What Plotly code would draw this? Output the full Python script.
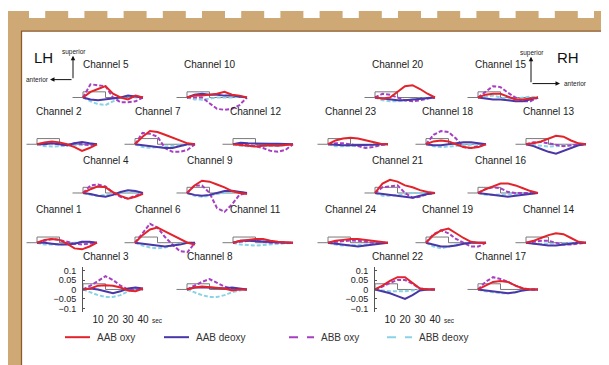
import plotly.graph_objects as go

W, H = 609, 365
PAGE_OFF = 8  # browser body margin that offsets the figure on the page

# ---------------- data ----------------
time_s = [0, 5, 10, 15, 20, 25, 30, 35, 40]
stim_t = [-7, 0, 0, 15, 15, 40]
stim_v = [0, 0, 0.03, 0.03, 0, 0]
channels = [5, 10, 2, 7, 12, 4, 9, 1, 6, 11, 3, 8,
            20, 15, 23, 18, 13, 21, 16, 24, 19, 14, 22, 17]
calib_channels = [3, 22]
series_names = ["AAB oxy", "AAB deoxy", "ABB oxy", "ABB deoxy"]
y_tickvals = [-0.1, -0.05, 0, 0.05, 0.1]
y_ticktext = ["\u22120.1", "\u22120.05", "0", "0.05", "0.1"]
x_tickvals = [10, 20, 30, 40]

aab_oxy = {
    5:  [0, 0.03, 0.045, 0.06, 0.02, 0.0, -0.01, 0.01, 0.0],
    10: [0, 0.01, 0.01, 0.015, 0.02, 0.03, 0.015, 0.01, 0.0],
    2:  [0, 0.01, 0.015, 0.01, 0.0, -0.015, -0.035, -0.02, 0.0],
    7:  [0, 0.04, 0.07, 0.065, 0.05, 0.035, 0.02, 0.005, 0.0],
    12: [0, -0.005, -0.01, -0.012, -0.008, -0.005, -0.008, -0.005, 0.0],
    4:  [0, 0.02, 0.035, 0.03, 0.005, -0.015, -0.03, -0.02, -0.005],
    9:  [0, 0.04, 0.065, 0.06, 0.045, 0.03, 0.01, 0.0, -0.005],
    1:  [0, 0.015, 0.02, 0.015, -0.005, -0.03, -0.035, -0.02, 0.0],
    6:  [0, 0.04, 0.07, 0.08, 0.06, 0.04, 0.02, 0.0, -0.01],
    11: [0, 0.01, 0.015, 0.02, 0.02, 0.01, 0.005, 0.003, 0.0],
    3:  [0, 0.005, 0.02, 0.022, 0.02, 0.01, -0.005, -0.01, 0.005],
    8:  [0, 0.01, 0.015, 0.012, 0.01, 0.005, -0.005, 0.0, 0.0],
    20: [0, -0.005, 0.0, 0.03, 0.06, 0.065, 0.045, 0.02, 0.0],
    15: [0, 0.015, 0.02, 0.02, 0.005, -0.01, -0.01, -0.005, 0.0],
    23: [0, 0.02, 0.03, 0.035, 0.03, 0.02, 0.01, 0.003, 0.0],
    18: [0, 0.015, 0.02, 0.015, 0.0, -0.015, -0.02, -0.015, 0.0],
    13: [0, 0.005, 0.015, 0.03, 0.045, 0.04, 0.02, 0.005, 0.0],
    21: [0, 0.05, 0.07, 0.06, 0.04, 0.03, 0.015, 0.005, 0.0],
    16: [0, 0.02, 0.035, 0.05, 0.05, 0.04, 0.025, 0.01, 0.0],
    24: [0, 0.01, 0.015, 0.02, 0.02, 0.015, 0.01, 0.003, 0.0],
    19: [0, 0.04, 0.065, 0.075, 0.05, 0.025, 0.005, 0.0, 0.0],
    14: [0, 0.01, 0.025, 0.04, 0.05, 0.045, 0.025, 0.005, 0.0],
    22: [0, 0.02, 0.045, 0.065, 0.065, 0.035, 0.005, 0.0, 0.0],
    17: [0, 0.02, 0.04, 0.045, 0.04, 0.02, 0.005, 0.0, 0.0],
}
aab_deoxy = {
    5:  [0, -0.01, -0.015, -0.01, -0.005, 0.0, 0.01, 0.005, 0.0],
    10: [0, 0.015, 0.02, 0.015, 0.015, 0.01, 0.01, 0.005, 0.0],
    2:  [0, 0.0, 0.005, 0.0, -0.005, 0.005, 0.012, 0.005, 0.0],
    7:  [0, -0.005, -0.01, -0.015, -0.02, -0.02, -0.01, 0.0, 0.0],
    12: [0, 0.008, 0.005, 0.003, 0.002, 0.002, 0.002, 0.0, 0.0],
    4:  [0, -0.005, -0.015, -0.02, -0.01, 0.005, 0.015, 0.01, 0.0],
    9:  [0, -0.01, -0.015, -0.01, 0.0, 0.01, 0.012, 0.005, 0.0],
    1:  [0, 0.0, -0.005, -0.01, -0.01, -0.005, 0.005, 0.005, 0.0],
    6:  [0, -0.005, -0.01, -0.015, -0.02, -0.015, -0.01, 0.0, 0.0],
    11: [0, 0.01, 0.01, 0.008, 0.005, 0.003, 0.0, 0.0, 0.0],
    3:  [0, 0.005, 0.0, -0.01, -0.02, -0.01, 0.005, 0.01, 0.005],
    8:  [0, 0.01, 0.012, 0.01, 0.005, 0.005, 0.01, 0.005, 0.0],
    20: [0, -0.005, -0.01, -0.015, -0.015, -0.012, -0.01, -0.005, 0.0],
    15: [0, -0.005, -0.01, -0.01, -0.015, -0.02, -0.02, -0.01, 0.0],
    23: [0, -0.003, -0.005, -0.005, -0.005, -0.005, -0.003, 0.0, 0.0],
    18: [0, -0.005, -0.005, 0.0, 0.005, 0.01, 0.01, 0.005, 0.0],
    13: [0, -0.01, -0.025, -0.04, -0.05, -0.035, -0.02, -0.005, 0.0],
    21: [0, -0.005, -0.01, -0.015, -0.02, -0.025, -0.015, -0.005, 0.0],
    16: [0, -0.005, -0.01, -0.015, -0.02, -0.015, -0.01, -0.005, 0.0],
    24: [0, -0.005, -0.01, -0.015, -0.02, -0.015, -0.01, -0.005, 0.0],
    19: [0, -0.01, -0.02, -0.02, -0.015, -0.005, 0.0, 0.0, 0.0],
    14: [0, -0.005, -0.01, -0.015, -0.015, -0.01, -0.005, 0.0, 0.0],
    22: [0, -0.01, -0.02, -0.035, -0.05, -0.03, -0.005, 0.0, 0.0],
    17: [0, -0.005, -0.01, -0.015, -0.02, -0.015, -0.005, 0.0, 0.0],
}
abb_oxy = {
    5:  [0, 0.07, 0.065, 0.06, 0.0, -0.025, -0.025, -0.02, 0.0],
    10: [0, 0.0, 0.0, -0.03, -0.06, -0.065, -0.06, -0.04, 0.0],
    2:  [0, 0.005, 0.005, 0.0, -0.005, 0.005, 0.0, -0.005, 0.0],
    7:  [0, 0.06, 0.055, 0.04, -0.02, -0.04, -0.04, -0.03, 0.0],
    12: [0, 0.0, -0.005, -0.01, -0.02, -0.035, -0.04, -0.03, 0.0],
    4:  [0, 0.04, 0.045, 0.035, 0.0, -0.02, -0.03, -0.015, 0.0],
    9:  [0, 0.04, 0.04, 0.0, -0.08, -0.1, -0.06, -0.01, 0.0],
    1:  [0, 0.01, 0.02, 0.015, 0.005, -0.005, -0.01, -0.005, 0.0],
    6:  [0, 0.05, 0.1, 0.08, 0.03, -0.01, -0.045, -0.05, 0.0],
    11: [0, 0.005, 0.01, 0.01, 0.005, 0.0, 0.0, 0.0, 0.0],
    3:  [0, 0.02, 0.045, 0.07, 0.05, 0.02, 0.0, 0.0, 0.0],
    8:  [0, 0.02, 0.04, 0.055, 0.035, 0.015, 0.005, 0.0, 0.0],
    20: [0, 0.02, 0.015, 0.0, -0.015, -0.02, -0.015, -0.005, 0.0],
    15: [0, 0.03, 0.06, 0.055, 0.025, 0.0, -0.02, -0.02, 0.0],
    23: [0, 0.005, 0.005, 0.0, -0.01, -0.02, -0.015, -0.005, 0.0],
    18: [0, 0.05, 0.07, 0.065, 0.03, -0.015, -0.02, -0.01, 0.0],
    13: [0, 0.01, 0.012, 0.005, -0.005, -0.01, -0.005, 0.0, 0.0],
    21: [0, 0.03, 0.035, 0.04, 0.0, -0.025, -0.02, -0.005, 0.0],
    16: [0, 0.02, 0.03, 0.025, 0.005, 0.0, 0.0, 0.0, 0.0],
    24: [0, 0.005, 0.01, 0.012, 0.01, 0.005, 0.0, 0.0, 0.0],
    19: [0, 0.045, 0.065, 0.05, 0.02, 0.0, -0.02, -0.02, 0.0],
    14: [0, 0.005, 0.01, 0.01, 0.0, -0.01, -0.01, -0.005, 0.0],
    22: [0, 0.015, 0.035, 0.05, 0.05, 0.03, 0.005, 0.0, 0.0],
    17: [0, 0.04, 0.065, 0.055, 0.04, 0.02, 0.005, 0.0, 0.0],
}
abb_deoxy = {
    5:  [0, -0.02, -0.035, -0.04, -0.02, 0.0, 0.005, 0.0, 0.0],
    10: [0, -0.01, -0.012, -0.005, 0.0, 0.0, 0.0, 0.005, 0.0],
    2:  [0, -0.01, -0.012, -0.01, -0.008, -0.005, -0.005, -0.003, 0.0],
    7:  [0, -0.015, -0.018, -0.015, -0.015, -0.012, -0.008, -0.003, 0.0],
    12: [0, -0.008, -0.01, -0.012, -0.01, -0.01, -0.008, -0.005, 0.0],
    4:  [0, -0.01, -0.015, -0.012, -0.005, 0.0, 0.008, 0.005, 0.0],
    9:  [0, -0.015, -0.02, -0.015, -0.005, 0.0, 0.005, 0.005, 0.0],
    1:  [0, -0.01, -0.01, -0.01, -0.005, 0.0, 0.005, 0.003, 0.0],
    6:  [0, -0.015, -0.025, -0.03, -0.025, -0.015, -0.005, 0.0, 0.0],
    11: [0, -0.01, -0.012, -0.015, -0.012, -0.01, -0.008, -0.005, 0.0],
    3:  [0, -0.015, -0.03, -0.04, -0.04, -0.03, -0.01, 0.0, 0.0],
    8:  [0, -0.015, -0.03, -0.04, -0.04, -0.03, -0.015, -0.005, 0.0],
    20: [0, -0.015, -0.02, -0.02, -0.015, -0.01, -0.005, 0.0, 0.0],
    15: [0, 0.005, 0.01, 0.0, -0.005, -0.005, 0.0, 0.005, 0.0],
    23: [0, -0.01, -0.01, -0.01, -0.01, -0.008, -0.005, -0.003, 0.0],
    18: [0, -0.01, -0.015, -0.012, -0.008, -0.005, 0.0, 0.0, 0.0],
    13: [0, -0.005, -0.01, -0.012, -0.01, -0.008, -0.005, 0.0, 0.0],
    21: [0, -0.015, -0.015, -0.01, -0.005, 0.0, 0.0, 0.0, 0.0],
    16: [0, -0.01, -0.01, -0.008, -0.008, -0.005, -0.003, 0.0, 0.0],
    24: [0, -0.01, -0.015, -0.015, -0.012, -0.01, -0.005, 0.0, 0.0],
    19: [0, -0.02, -0.03, -0.02, -0.01, -0.005, 0.0, 0.0, 0.0],
    14: [0, -0.005, -0.005, -0.005, -0.005, -0.003, 0.0, 0.0, 0.0],
    22: [0, -0.005, -0.01, -0.01, -0.01, -0.005, 0.0, 0.0, 0.0],
    17: [0, -0.01, -0.015, -0.02, -0.02, -0.015, -0.005, 0.0, 0.0],
}

# ---------------- layout (screen-pixel positions of each panel) ----------------
col_px = {"A": 37, "B": 83, "C": 135, "D": 187, "E": 233,
          "A2": 328, "B2": 375, "C2": 426, "D2": 478, "E2": 526}
row_px = [97, 144, 193, 243, 290]
panel_pos = {
    5: ("B", 0), 10: ("D", 0), 2: ("A", 1), 7: ("C", 1), 12: ("E", 1),
    4: ("B", 2), 9: ("D", 2), 1: ("A", 3), 6: ("C", 3), 11: ("E", 3),
    3: ("B", 4), 8: ("D", 4),
    20: ("B2", 0), 15: ("D2", 0), 23: ("A2", 1), 18: ("C2", 1), 13: ("E2", 1),
    21: ("B2", 2), 16: ("D2", 2), 24: ("A2", 3), 19: ("C2", 3), 14: ("E2", 3),
    22: ("B2", 4), 17: ("D2", 4),
}

COL = {"AAB oxy": "#e3232b", "AAB deoxy": "#4a36a6",
       "ABB oxy": "#a63fc2", "ABB deoxy": "#8ad3e6"}
DASH = {"AAB oxy": "solid", "AAB deoxy": "solid",
        "ABB oxy": "4px,2px", "ABB deoxy": "4px,2px"}
FONT = "Liberation Sans, Arial, Helvetica, sans-serif"
TAN = "#cfa975"
BROWN = "#8a5a2b"


def px(x):
    return (x - PAGE_OFF) / W


def py(y):
    return 1 - (y - PAGE_OFF) / H


series_data = {"AAB oxy": aab_oxy, "AAB deoxy": aab_deoxy,
               "ABB oxy": abb_oxy, "ABB deoxy": abb_deoxy}
draw_order = ["ABB deoxy", "ABB oxy", "AAB deoxy", "AAB oxy"]

fig = go.Figure()
layout_axes = {}
annotations = []

for i, ch in enumerate(channels):
    n = i + 1
    xa = "x" if n == 1 else f"x{n}"
    ya = "y" if n == 1 else f"y{n}"
    xkey = "xaxis" if n == 1 else f"xaxis{n}"
    ykey = "yaxis" if n == 1 else f"yaxis{n}"
    col, row = panel_pos[ch]
    x0 = col_px[col]
    y0 = row_px[row]
    calib = ch in calib_channels

    fig.add_trace(go.Scatter(x=stim_t, y=stim_v, mode="lines",
                             line=dict(color="#7a7a7a", width=1),
                             xaxis=xa, yaxis=ya, showlegend=False,
                             hoverinfo="skip"))
    for s in draw_order:
        fig.add_trace(go.Scatter(x=time_s, y=series_data[s][ch], mode="lines",
                                 line=dict(color=COL[s], width=2, dash=DASH[s]),
                                 xaxis=xa, yaxis=ya, showlegend=False,
                                 name=s))

    if calib:
        layout_axes[xkey] = dict(domain=[px(x0), px(x0 + 75)], range=[0, 50],
                                 anchor=ya, showgrid=False, zeroline=False,
                                 showline=False, ticks="", tickvals=x_tickvals,
                                 tickfont=dict(size=10, color="#222", family=FONT),
                                 fixedrange=True)
        layout_axes[ykey] = dict(domain=[py(y0 + 22.8), py(y0 - 22.8)],
                                 range=[-0.12, 0.12], anchor=xa,
                                 showgrid=False, zeroline=False,
                                 showline=True, linecolor="#555", linewidth=1,
                                 ticks="inside", ticklen=2, tickcolor="#555",
                                 tickvals=y_tickvals, ticktext=y_ticktext,
                                 ticklabelstandoff=4,
                                 tickfont=dict(size=9, color="#222", family=FONT),
                                 fixedrange=True)
        annotations.append(dict(x=px(x0 + 74), y=py(321), xref="paper", yref="paper",
                                text="sec", showarrow=False, xanchor="center",
                                yanchor="middle",
                                font=dict(size=6.5, color="#222", family=FONT)))
    else:
        layout_axes[xkey] = dict(domain=[px(x0 - 15), px(x0 + 75)], range=[-10, 50],
                                 anchor=ya, visible=False, fixedrange=True)
        layout_axes[ykey] = dict(domain=[py(y0 + 38), py(y0 - 38)], range=[-0.2, 0.2],
                                 anchor=xa, visible=False, fixedrange=True)

    annotations.append(dict(x=px(x0 + 22.5), y=py(y0 - 33), xref="paper", yref="paper",
                            text=f"Channel {ch}", showarrow=False,
                            xanchor="center", yanchor="middle",
                            font=dict(size=10, color="#222", family=FONT)))

# hemisphere labels and orientation arrows
hemi = [
    dict(x=px(43), y=py(57), text="LH", font=dict(size=15, color="#111", family=FONT)),
    dict(x=px(568), y=py(57), text="RH", font=dict(size=15, color="#111", family=FONT)),
    dict(x=px(73.5), y=py(51.5), text="superior", font=dict(size=6.5, color="#222", family=FONT)),
    dict(x=px(37.5), y=py(79), text="anterior", font=dict(size=6.5, color="#222", family=FONT)),
    dict(x=px(532), y=py(52.5), text="superior", font=dict(size=6.5, color="#222", family=FONT)),
    dict(x=px(575.5), y=py(83), text="anterior", font=dict(size=6.5, color="#222", family=FONT)),
]
for a in hemi:
    a.update(xref="paper", yref="paper", showarrow=False, xanchor="center", yanchor="middle")
annotations += hemi

arrow_style = dict(xref="paper", yref="paper", text="", showarrow=True,
                   arrowhead=2, arrowsize=0.9, arrowwidth=1, arrowcolor="#111",
                   axref="pixel", ayref="pixel", standoff=0, startstandoff=0)
annotations += [
    dict(x=px(73), y=py(55), ax=0, ay=24, **arrow_style),
    dict(x=px(50), y=py(79), ax=23, ay=0, **arrow_style),
    dict(x=px(531), y=py(56), ax=0, ay=27, **arrow_style),
    dict(x=px(560), y=py(83), ax=-29, ay=0, **arrow_style),
]

# frame shapes
shapes = []
shapes.append(dict(type="rect", xref="paper", yref="paper", x0=px(6), x1=px(21),
                   y0=py(380), y1=py(17), fillcolor=TAN, line=dict(width=0), layer="below"))
shapes.append(dict(type="rect", xref="paper", yref="paper", x0=px(6), x1=px(620),
                   y0=py(30), y1=py(17), fillcolor=TAN, line=dict(width=0), layer="below"))
shapes.append(dict(type="rect", xref="paper", yref="paper", x0=px(604), x1=px(620),
                   y0=py(380), y1=py(17), fillcolor=TAN, line=dict(width=0), layer="below"))
for k in range(16):
    bx = 6 + 39.2 * k
    shapes.append(dict(type="rect", xref="paper", yref="paper", x0=px(bx),
                       x1=px(bx + 23), y0=py(17.5), y1=py(10),
                       fillcolor=TAN, line=dict(width=0), layer="below"))
shapes += [
    dict(type="line", xref="paper", yref="paper", x0=px(21.5), x1=px(21.5),
         y0=py(30), y1=py(380), line=dict(color=BROWN, width=1.3)),
    dict(type="line", xref="paper", yref="paper", x0=px(21), x1=px(604),
         y0=py(30.3), y1=py(30.3), line=dict(color=BROWN, width=1.3)),
    dict(type="line", xref="paper", yref="paper", x0=px(603.5), x1=px(603.5),
         y0=py(30), y1=py(380), line=dict(color=BROWN, width=1.3)),
]

# legend (drawn manually)
leg_x = [65, 164, 289, 387]
for s, lx in zip(series_names, leg_x):
    shapes.append(dict(type="line", xref="paper", yref="paper", x0=px(lx), x1=px(lx + 25),
                       y0=py(338), y1=py(338),
                       line=dict(color=COL[s], width=2,
                                 dash="solid" if DASH[s] == "solid" else "dash")))
    annotations.append(dict(x=px(lx + 30), y=py(338), xref="paper", yref="paper",
                            text=s, showarrow=False, xanchor="left", yanchor="middle",
                            font=dict(size=10, color="#333", family=FONT)))

fig.update_layout(
    width=W, height=H, autosize=False,
    margin=dict(l=0, r=0, t=0, b=0),
    paper_bgcolor="white", plot_bgcolor="rgba(0,0,0,0)",
    showlegend=False,
    annotations=annotations, shapes=shapes,
    font=dict(family=FONT),
    **layout_axes,
)

fig.write_html("out.html", config={"displayModeBar": False})
